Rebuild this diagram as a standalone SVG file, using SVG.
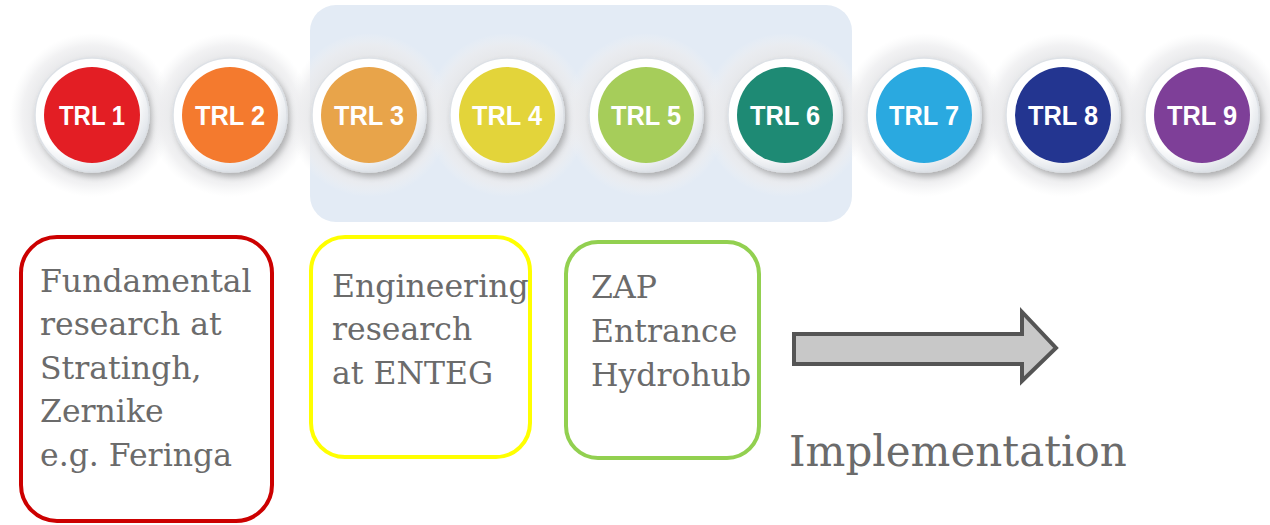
<svg xmlns="http://www.w3.org/2000/svg" width="1270" height="525" viewBox="0 0 1270 525">
<defs>
<radialGradient id="halo" cx="0.5" cy="0.5" r="0.5">
<stop offset="0.65" stop-color="#e4e5e7" stop-opacity="1"/>
<stop offset="0.85" stop-color="#ececee" stop-opacity="0.7"/>
<stop offset="1" stop-color="#f2f3f4" stop-opacity="0"/>
</radialGradient>
<radialGradient id="ring" cx="0.4" cy="0.35" r="0.7">
<stop offset="0.7" stop-color="#ffffff"/>
<stop offset="1" stop-color="#d6dbe2"/>
</radialGradient>
<filter id="sh" x="-30%" y="-30%" width="160%" height="160%">
<feGaussianBlur in="SourceAlpha" stdDeviation="3"/>
<feOffset dx="3" dy="4" result="b"/>
<feComponentTransfer><feFuncA type="linear" slope="0.25"/></feComponentTransfer>
<feMerge><feMergeNode/><feMergeNode in="SourceGraphic"/></feMerge>
</filter>
</defs>
<style>
.halo{fill:url(#halo)}
.ring{fill:url(#ring);stroke:#dde1e6;stroke-width:1.5}
.lbl{font-family:"Liberation Sans",Arial,sans-serif;font-weight:bold;font-size:27px;fill:#ffffff;text-anchor:middle}
.txt{font-family:"DejaVu Serif",Georgia,serif;font-size:31.5px;fill:#6b6b6b}
.box{fill:none;stroke-width:4}
</style>
<rect width="1270" height="525" fill="#ffffff"/>
<rect id="band" x="310" y="5" width="542" height="217" rx="26" fill="#e3ebf5"/>
<g id="trl1"><circle class="halo" cx="92" cy="115" r="82"/><circle class="ring" cx="92" cy="115" r="57" filter="url(#sh)"/><circle cx="92" cy="115" r="48" fill="#e31e24"/><text class="lbl" x="92" y="125" textLength="66" lengthAdjust="spacingAndGlyphs">TRL 1</text></g>
<g id="trl2"><circle class="halo" cx="230" cy="115" r="82"/><circle class="ring" cx="230" cy="115" r="57" filter="url(#sh)"/><circle cx="230" cy="115" r="48" fill="#f47a2e"/><text class="lbl" x="230" y="125" textLength="70" lengthAdjust="spacingAndGlyphs">TRL 2</text></g>
<g id="trl3"><circle class="halo" cx="369" cy="115" r="82"/><circle class="ring" cx="369" cy="115" r="57" filter="url(#sh)"/><circle cx="369" cy="115" r="48" fill="#e8a44a"/><text class="lbl" x="369" y="125" textLength="70" lengthAdjust="spacingAndGlyphs">TRL 3</text></g>
<g id="trl4"><circle class="halo" cx="507" cy="115" r="82"/><circle class="ring" cx="507" cy="115" r="57" filter="url(#sh)"/><circle cx="507" cy="115" r="48" fill="#e3d43a"/><text class="lbl" x="507" y="125" textLength="70" lengthAdjust="spacingAndGlyphs">TRL 4</text></g>
<g id="trl5"><circle class="halo" cx="646" cy="115" r="82"/><circle class="ring" cx="646" cy="115" r="57" filter="url(#sh)"/><circle cx="646" cy="115" r="48" fill="#a6cd5a"/><text class="lbl" x="646" y="125" textLength="70" lengthAdjust="spacingAndGlyphs">TRL 5</text></g>
<g id="trl6"><circle class="halo" cx="785" cy="115" r="82"/><circle class="ring" cx="785" cy="115" r="57" filter="url(#sh)"/><circle cx="785" cy="115" r="48" fill="#1e8a74"/><text class="lbl" x="785" y="125" textLength="70" lengthAdjust="spacingAndGlyphs">TRL 6</text></g>
<g id="trl7"><circle class="halo" cx="924" cy="115" r="82"/><circle class="ring" cx="924" cy="115" r="57" filter="url(#sh)"/><circle cx="924" cy="115" r="48" fill="#2aa9e0"/><text class="lbl" x="924" y="125" textLength="70" lengthAdjust="spacingAndGlyphs">TRL 7</text></g>
<g id="trl8"><circle class="halo" cx="1063" cy="115" r="82"/><circle class="ring" cx="1063" cy="115" r="57" filter="url(#sh)"/><circle cx="1063" cy="115" r="48" fill="#233590"/><text class="lbl" x="1063" y="125" textLength="70" lengthAdjust="spacingAndGlyphs">TRL 8</text></g>
<g id="trl9"><circle class="halo" cx="1202" cy="115" r="82"/><circle class="ring" cx="1202" cy="115" r="57" filter="url(#sh)"/><circle cx="1202" cy="115" r="48" fill="#7e3f98"/><text class="lbl" x="1202" y="125" textLength="70" lengthAdjust="spacingAndGlyphs">TRL 9</text></g>
<g id="fundamental">
<rect class="box" x="21" y="237" width="251" height="284" rx="36" stroke="#cc0000"/>
<text class="txt" x="40" y="292">Fundamental</text>
<text class="txt" x="40" y="335">research at</text>
<text class="txt" x="40" y="379">Stratingh,</text>
<text class="txt" x="40" y="422">Zernike</text>
<text class="txt" x="40" y="466">e.g. Feringa</text>
</g>
<g id="engineering">
<rect class="box" x="311" y="237" width="219" height="220" rx="34" stroke="#ffff00"/>
<text class="txt" x="332" y="297">Engineering</text>
<text class="txt" x="332" y="340">research</text>
<text class="txt" x="332" y="384">at ENTEG</text>
</g>
<g id="zap">
<rect class="box" x="566" y="242" width="193" height="216" rx="32" stroke="#92d050"/>
<text class="txt" x="591" y="298">ZAP</text>
<text class="txt" x="591" y="342">Entrance</text>
<text class="txt" x="591" y="386">Hydrohub</text>
</g>
<g id="connectors">
<path d="M794,334 L1022,334 L1022,312 L1056,348 L1022,381 L1022,364 L794,364 Z" fill="#c8c8c8" stroke="#555555" stroke-width="4" stroke-linejoin="miter"/>
</g>
<g id="implementation">
<text x="789" y="466" font-family="DejaVu Serif,Georgia,serif" font-size="42" fill="#6b6b6b">Implementation</text>
</g>
</svg>
